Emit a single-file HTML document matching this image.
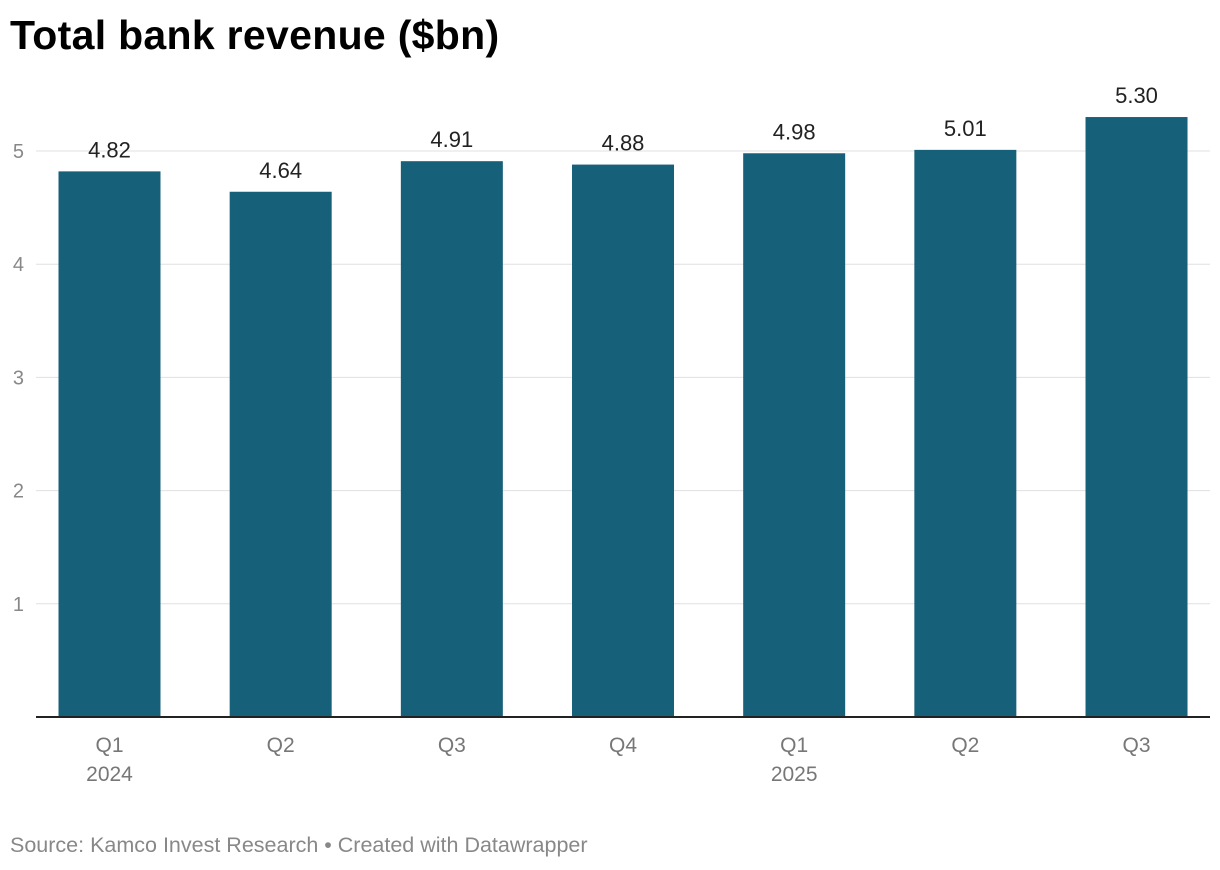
<!DOCTYPE html>
<html>
<head>
<meta charset="utf-8">
<style>
  html,body{margin:0;padding:0;background:#fff;}
  body{width:1220px;height:870px;position:relative;font-family:"Liberation Sans",sans-serif;overflow:hidden;}
  #title{position:absolute;left:10px;top:12px;font-size:41px;font-weight:bold;color:#000;letter-spacing:0.3px;margin:0;}
  #source{position:absolute;left:10px;top:833px;font-size:21.5px;color:#888;}
  svg{position:absolute;left:0;top:0;}
</style>
</head>
<body>
<h1 id="title">Total bank revenue ($bn)</h1>
<svg id="chart" width="1220" height="870"></svg>
<div id="source">Source: Kamco Invest Research • Created with Datawrapper</div>
<script>
const categories = ["Q1", "Q2", "Q3", "Q4", "Q1", "Q2", "Q3"];
const years = ["2024", "", "", "", "2025", "", ""];
const values = [4.82, 4.64, 4.91, 4.88, 4.98, 5.01, 5.30];
const labels = ["4.82", "4.64", "4.91", "4.88", "4.98", "5.01", "5.30"];
const yTicks = [1, 2, 3, 4, 5];

const NS = "http://www.w3.org/2000/svg";
const svg = document.getElementById("chart");
const plotLeft = 36, plotRight = 1210, baseY = 717, unitPx = 113.2;
const firstCenter = 109.5, step = 171.17, barW = 102;
function y(v){ return baseY - v * unitPx; }
function x(i){ return firstCenter + i * step; }
function mk(tag, attrs){ const e = document.createElementNS(NS, tag); for (const k in attrs) e.setAttribute(k, attrs[k]); svg.appendChild(e); return e; }

yTicks.forEach(t => {
  const g = mk("line", {x1: plotLeft, x2: plotRight, y1: y(t), y2: y(t), stroke: "#e0e0e0", "stroke-width": 1});
  
  
  const l = mk("text", {x: 24, y: y(t) + 7, "text-anchor": "end", "font-size": 20, fill: "#888", "font-family": "Liberation Sans, sans-serif"});
  l.textContent = t;
  
  
});

values.forEach((v, i) => {
  const r = mk("rect", {x: x(i) - barW/2, y: y(v), width: barW, height: baseY - y(v), fill: "#17607a"});
  
  
  const t = mk("text", {x: x(i), y: y(v) - 14, "text-anchor": "middle", "font-size": 22, fill: "#222", "font-family": "Liberation Sans, sans-serif"});
  t.textContent = labels[i];
  
  
  const c = mk("text", {x: x(i), y: 752, "text-anchor": "middle", "font-size": 21, fill: "#777", "font-family": "Liberation Sans, sans-serif"});
  c.textContent = categories[i];
  
  
  if (years[i]) {
    const yr = mk("text", {x: x(i), y: 781, "text-anchor": "middle", "font-size": 21, fill: "#777", "font-family": "Liberation Sans, sans-serif"});
    yr.textContent = years[i];
    
    
  }
});

const base = mk("line", {x1: plotLeft, x2: plotRight, y1: baseY, y2: baseY, stroke: "#222", "stroke-width": 2});


</script>
</body>
</html>
